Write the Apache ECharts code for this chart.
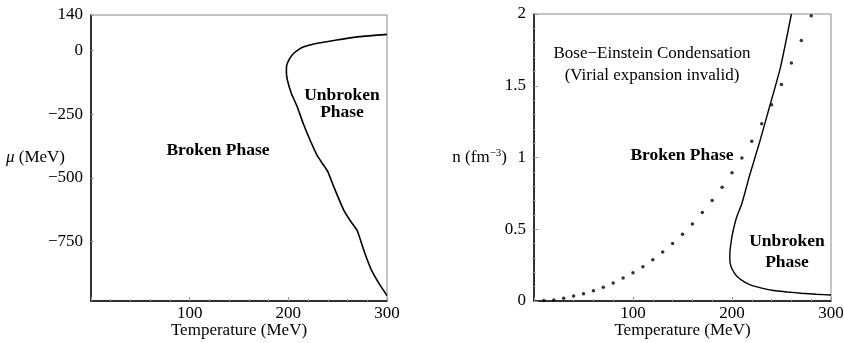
<!DOCTYPE html>
<html>
<head>
<meta charset="utf-8">
<script src="https://cdn.jsdelivr.net/npm/echarts@6/dist/echarts.min.js"></script>
<style>
  html, body { margin: 0; padding: 0; background: #fff; }
  #main { width: 844px; height: 343px; }
</style>
</head>
<body>
<div id="main"></div>
<script>
// left panel: phase boundary in (T, mu)
const muBoundary = [
  [300, 64], [272, 55], [249, 42], [227, 27], [215, 14], [210, 3], [205, -12],
  [201.5, -30], [198.5, -55], [198, -80], [199, -115], [203, -167], [209, -220],
  [215, -285], [222, -351], [229, -410], [234, -440], [240, -475], [246, -534],
  [256, -625], [264, -675], [270, -708], [277, -790], [284, -860], [292, -915],
  [300, -962]
];
const muTicks = [-750, -500, -250, 0, 140];

// right panel: phase boundary in (T, n)
const nBoundary = [
  [260, 2.0], [249, 1.63], [238, 1.355], [228, 1.11], [218, 0.88], [210, 0.68],
  [205, 0.59], [201.5, 0.5], [199.5, 0.43], [198, 0.35], [197.8, 0.29], [199, 0.24],
  [202, 0.2], [206, 0.165], [212, 0.135], [218.5, 0.112], [230, 0.09], [242, 0.073],
  [256, 0.063], [270, 0.054], [285, 0.047], [300, 0.042]
];
// dotted curve (virial expansion), T = 10..280
const dotT = [10, 20, 30, 40, 50, 60, 70, 80, 90, 100, 110, 120, 130, 140,
  150, 160, 170, 180, 190, 200, 210, 220, 230, 240, 250, 260, 270, 280];
const dotN = [0.003, 0.007, 0.019, 0.035, 0.051, 0.072, 0.096, 0.126, 0.160, 0.197,
  0.239, 0.288, 0.342, 0.40, 0.465, 0.537, 0.616, 0.70, 0.793, 0.893,
  0.997, 1.114, 1.236, 1.367, 1.509, 1.658, 1.815, 1.987];
const tempTicks = [100, 200, 300];

const FONT = "'Liberation Serif', 'DejaVu Serif', serif";
const FS = 17;
const minus = (v) => (v < 0 ? "\u2212" + (-v) : String(v));

const xAxisBase = (gi) => ({
  type: "value",
  gridIndex: gi,
  min: 0,
  max: 300,
  interval: 100,
  name: "Temperature (MeV)",
  nameLocation: "middle",
  nameGap: 21,
  nameMoveOverlap: false,
  nameTextStyle: { fontFamily: FONT, fontSize: FS, color: "#000" },
  axisLine: { show: true, onZero: false, lineStyle: { color: "#000", width: 1.5 } },
  axisTick: { show: true, inside: true, length: 4, lineStyle: { color: "#999" } },
  minorTick: { show: true, splitNumber: 5, length: 2, lineStyle: { color: "#bbb" } },
  splitLine: { show: false },
  axisLabel: {
    customValues: tempTicks,
    fontFamily: FONT,
    fontSize: FS,
    color: "#000",
    margin: 4,
  },
});

const chart = echarts.init(document.getElementById("main"));
chart.setOption({
  animation: false,
  backgroundColor: "#fff",
  grid: [
    { left: 91, top: 15, width: 296, height: 286, outerBoundsMode: "none", containLabel: false, show: true, borderColor: "#888", borderWidth: 1, backgroundColor: "transparent" },
    { left: 534, top: 14, width: 297, height: 287, outerBoundsMode: "none", containLabel: false, show: true, borderColor: "#888", borderWidth: 1, backgroundColor: "transparent" },
  ],
  xAxis: [xAxisBase(0), xAxisBase(1)],
  yAxis: [
    {
      type: "value",
      gridIndex: 0,
      min: -983,
      max: 140,
      name: "{i|\u03bc} (MeV)",
      nameLocation: "middle",
      nameRotate: 0,
      nameGap: 26,
      nameMoveOverlap: false,
      nameTextStyle: {
        fontFamily: FONT, fontSize: FS, color: "#000",
        rich: { i: { fontFamily: FONT, fontSize: FS, fontStyle: "italic", color: "#000" } },
      },
      axisLine: { show: true, onZero: false, lineStyle: { color: "#000", width: 1.5 } },
      axisTick: { show: true, inside: true, length: 3, customValues: muTicks, lineStyle: { color: "#999" } },
      splitLine: { show: false },
      axisLabel: {
        customValues: muTicks,
        formatter: minus,
        fontFamily: FONT,
        fontSize: FS,
        color: "#000",
        margin: 8,
      },
    },
    {
      type: "value",
      gridIndex: 1,
      min: 0,
      max: 2,
      interval: 0.5,
      name: "n (fm{s|\u22123})",
      nameLocation: "middle",
      nameRotate: 0,
      nameGap: 27,
      nameMoveOverlap: false,
      nameTextStyle: {
        fontFamily: FONT, fontSize: FS, color: "#000",
        rich: { s: { fontFamily: FONT, fontSize: 11, color: "#000", padding: [0, 0, 9, 0] } },
      },
      axisLine: { show: true, onZero: false, lineStyle: { color: "#000", width: 1.5 } },
      axisTick: { show: true, inside: true, length: 4, lineStyle: { color: "#999" } },
      minorTick: { show: true, splitNumber: 5, length: 2, lineStyle: { color: "#bbb" } },
      splitLine: { show: false },
      axisLabel: {
        fontFamily: FONT,
        fontSize: FS,
        color: "#000",
        margin: 8,
      },
    },
  ],
  series: [
    {
      type: "line",
      xAxisIndex: 0,
      yAxisIndex: 0,
      data: muBoundary,
      showSymbol: false,
      smooth: 0.15,
      lineStyle: { color: "#000", width: 1.6 },
    },
    {
      type: "line",
      xAxisIndex: 1,
      yAxisIndex: 1,
      data: nBoundary,
      showSymbol: false,
      smooth: 0.2,
      lineStyle: { color: "#000", width: 1.4 },
    },
    {
      type: "scatter",
      xAxisIndex: 1,
      yAxisIndex: 1,
      data: dotT.map((t, i) => [t, dotN[i]]),
      symbolSize: 3.5,
      itemStyle: { color: "#000" },
    },
  ],
  graphic: [
    { type: "text", x: 218, y: 150, style: { text: "Broken Phase", font: "bold 17.5px " + FONT, fill: "#000", textAlign: "center", textVerticalAlign: "middle" } },
    { type: "text", x: 342, y: 95, style: { text: "Unbroken", font: "bold 17.5px " + FONT, fill: "#000", textAlign: "center", textVerticalAlign: "middle" } },
    { type: "text", x: 342, y: 112, style: { text: "Phase", font: "bold 17.5px " + FONT, fill: "#000", textAlign: "center", textVerticalAlign: "middle" } },
    { type: "text", x: 652, y: 54, style: { text: "Bose\u2212Einstein Condensation", font: FS + "px " + FONT, fill: "#000", textAlign: "center", textVerticalAlign: "middle" } },
    { type: "text", x: 652, y: 76, style: { text: "(Virial expansion invalid)", font: FS + "px " + FONT, fill: "#000", textAlign: "center", textVerticalAlign: "middle" } },
    { type: "text", x: 682, y: 155, style: { text: "Broken Phase", font: "bold 17.5px " + FONT, fill: "#000", textAlign: "center", textVerticalAlign: "middle" } },
    { type: "text", x: 787, y: 241, style: { text: "Unbroken", font: "bold 17.5px " + FONT, fill: "#000", textAlign: "center", textVerticalAlign: "middle" } },
    { type: "text", x: 787, y: 262, style: { text: "Phase", font: "bold 17.5px " + FONT, fill: "#000", textAlign: "center", textVerticalAlign: "middle" } },
  ],
});
</script>
</body>
</html>
